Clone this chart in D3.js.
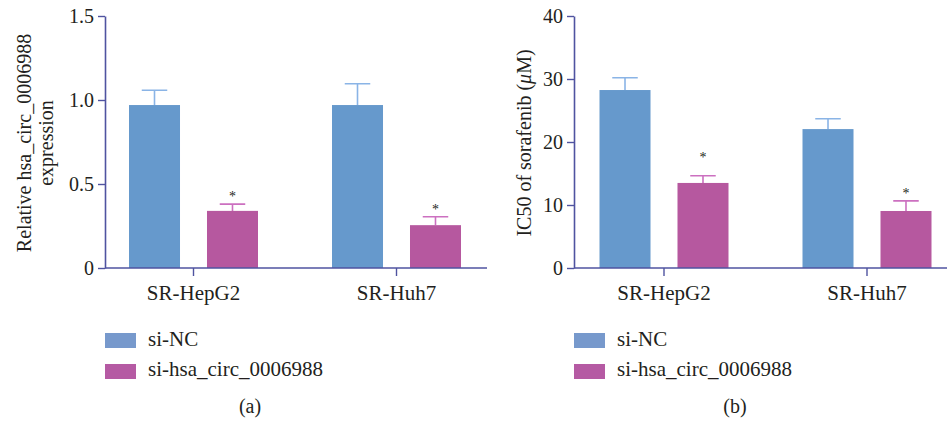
<!DOCTYPE html>
<html>
<head>
<meta charset="utf-8">
<script src="https://cdn.jsdelivr.net/npm/d3@7"></script>
<style>
  body { margin: 0; background: #fff; }
  svg text { font-family: "Liberation Serif", "Times New Roman", serif; fill: #231f20; }
</style>
</head>
<body>
<svg id="canvas"></svg>
<script>
// Categories and series.
var categories = ['SR-HepG2', 'SR-Huh7'];
var seriesNames = ['si-NC', 'si-hsa_circ_0006988'];

// Panel (a): relative expression, mean and error per series.
var expressionNC = [0.97, 0.97];
var expressionNCErr = [0.088, 0.127];
var expressionSi = [0.34, 0.255];
var expressionSiErr = [0.04, 0.05];
var expressionStars = [0.44, 0.363];
var expressionTicks = [0, 0.5, 1.0, 1.5];
var expressionTickLabels = ['0', '0.5', '1.0', '1.5'];

// Panel (b): IC50 of sorafenib.
var ic50NC = [28.25, 22.05];
var ic50NCErr = [1.95, 1.65];
var ic50Si = [13.5, 9.05];
var ic50SiErr = [1.15, 1.6];
var ic50Stars = [17.9, 12.3];
var ic50Ticks = [0, 10, 20, 30, 40];
var ic50TickLabels = ['0', '10', '20', '30', '40'];

var barColors = ['#6699cc', '#b6589f'];
var errColors = ['#8ab4e6', '#cc70c0'];
var legendColors = ['#7799cc', '#b55aa3'];
var axisColor = '#4f53a0';

var canvasWidth = 947;
var canvasHeight = 421;
var plotTop = 16;
var plotBottom = 268;

var svg = d3.select('#canvas')
            .attr('width', canvasWidth)
            .attr('height', canvasHeight);

var translation = function(x, y) {
  return 'translate(' + x + ',' + y + ')';
};

var drawPanel = function(p) {

  var g = svg.append('g');

  // Group scale and the scale for bars inside a group.
  var x0 = d3.scaleBand()
             .domain(categories)
             .range([p.bandLeft, p.bandLeft + 406]);
  var x1 = d3.scaleBand()
             .domain(seriesNames)
             .range([-64.5, 64.5])
             .paddingInner(0.346);
  var y = d3.scaleLinear()
            .domain(p.domain)
            .range([plotBottom, plotTop]);

  // Rows for the bars.
  var rows = [];
  for (var i = 0; i < categories.length; i++) {
    rows.push({cat: categories[i], s: 0, v: p.nc[i], e: p.ncErr[i], star: null});
    rows.push({cat: categories[i], s: 1, v: p.si[i], e: p.siErr[i], star: p.stars[i]});
  }
  var cx = function(d) {
    return x0(d.cat) + x0.bandwidth() / 2 + x1(seriesNames[d.s]) + x1.bandwidth() / 2;
  };

  // Error bars (drawn under the bars).
  var capHalf = x1.bandwidth() / 4;
  g.selectAll('.err')
    .data(rows)
    .enter()
    .append('path')
    .attr('d', function(d) {
      var c = cx(d), top = y(d.v + d.e);
      return 'M' + c + ',' + y(d.v) + 'V' + top + 'M' + (c - capHalf) + ',' + top + 'H' + (c + capHalf);
    })
    .attr('fill', 'none')
    .attr('stroke', function(d) { return errColors[d.s]; })
    .attr('stroke-width', 1.6);

  g.selectAll('.bar')
    .data(rows)
    .enter()
    .append('rect')
    .attr('x', function(d) { return cx(d) - x1.bandwidth() / 2; })
    .attr('y', function(d) { return y(d.v); })
    .attr('width', x1.bandwidth())
    .attr('height', function(d) { return plotBottom - y(d.v); })
    .attr('fill', function(d) { return barColors[d.s]; });

  // Significance stars.
  g.selectAll('.star')
    .data(rows.filter(function(d) { return d.star !== null; }))
    .enter()
    .append('text')
    .attr('x', cx)
    .attr('y', function(d) { return y(d.star) + 7; })
    .attr('text-anchor', 'middle')
    .style('font-size', '14px')
    .text('*');

  // Y axis.
  var yAxis = d3.axisLeft(y)
                .tickValues(p.ticks)
                .tickFormat(function(d, i) { return p.tickLabels[i]; })
                .tickSizeInner(7)
                .tickSizeOuter(0)
                .tickPadding(4);
  var ya = g.append('g')
            .attr('transform', translation(p.axisX, 0))
            .call(yAxis);
  ya.select('.domain').attr('stroke', axisColor).attr('stroke-width', 1.6);
  ya.selectAll('.tick line').attr('stroke', axisColor).attr('stroke-width', 1.4);
  ya.selectAll('.tick text').style('font-size', '20px').attr('fill', '#231f20');

  // X axis.
  var xAxis = d3.axisBottom(x0)
                .tickSizeInner(8)
                .tickSizeOuter(0)
                .tickPadding(9);
  var xa = g.append('g')
            .attr('transform', translation(0, plotBottom))
            .call(xAxis);
  xa.select('.domain').remove();
  xa.append('line')
    .attr('x1', p.axisX)
    .attr('x2', p.axisEnd)
    .attr('stroke', axisColor)
    .attr('stroke-width', 1.6);
  xa.selectAll('.tick line').attr('stroke', axisColor).attr('stroke-width', 1.4);
  xa.selectAll('.tick text').style('font-size', '21px').attr('fill', '#231f20');

  // Y axis label.
  var label = g.append('text')
               .attr('transform', translation(p.labelX, 143) + ' rotate(-90)')
               .attr('text-anchor', 'middle')
               .style('font-size', '20px');
  for (var k = 0; k < p.label.length; k++) {
    var line = p.label[k];
    var t = label.append('tspan')
                 .attr('x', 0)
                 .attr('y', k * 22);
    if (line.indexOf('μ') >= 0) {
      var parts = line.split('μ');
      t.append('tspan').text(parts[0]);
      t.append('tspan').style('font-style', 'italic').text('μ');
      t.append('tspan').text(parts[1]);
    } else {
      t.text(line);
    }
  }

  // Legend.
  var legend = g.append('g');
  for (var s = 0; s < seriesNames.length; s++) {
    legend.append('rect')
          .attr('x', p.axisX)
          .attr('y', 333 + s * 31)
          .attr('width', 31)
          .attr('height', 15)
          .attr('fill', legendColors[s]);
    legend.append('text')
          .attr('x', p.axisX + 43)
          .attr('y', 346 + s * 30)
          .style('font-size', '21px')
          .text(seriesNames[s]);
  }

  // Panel caption.
  g.append('text')
   .attr('x', p.captionX)
   .attr('y', 413)
   .attr('text-anchor', 'middle')
   .style('font-size', '20px')
   .text(p.caption);
};

drawPanel({
  nc: expressionNC, ncErr: expressionNCErr,
  si: expressionSi, siErr: expressionSiErr,
  stars: expressionStars,
  domain: [0, 1.5], ticks: expressionTicks, tickLabels: expressionTickLabels,
  axisX: 105, axisEnd: 487, bandLeft: 92,
  label: ['Relative hsa_circ_0006988', 'expression'], labelX: 31,
  caption: '(a)', captionX: 250
});

drawPanel({
  nc: ic50NC, ncErr: ic50NCErr,
  si: ic50Si, siErr: ic50SiErr,
  stars: ic50Stars,
  domain: [0, 40], ticks: ic50Ticks, tickLabels: ic50TickLabels,
  axisX: 574, axisEnd: 947, bandLeft: 562.5,
  label: ['IC50 of sorafenib (μM)'], labelX: 531,
  caption: '(b)', captionX: 735
});
</script>
</body>
</html>
